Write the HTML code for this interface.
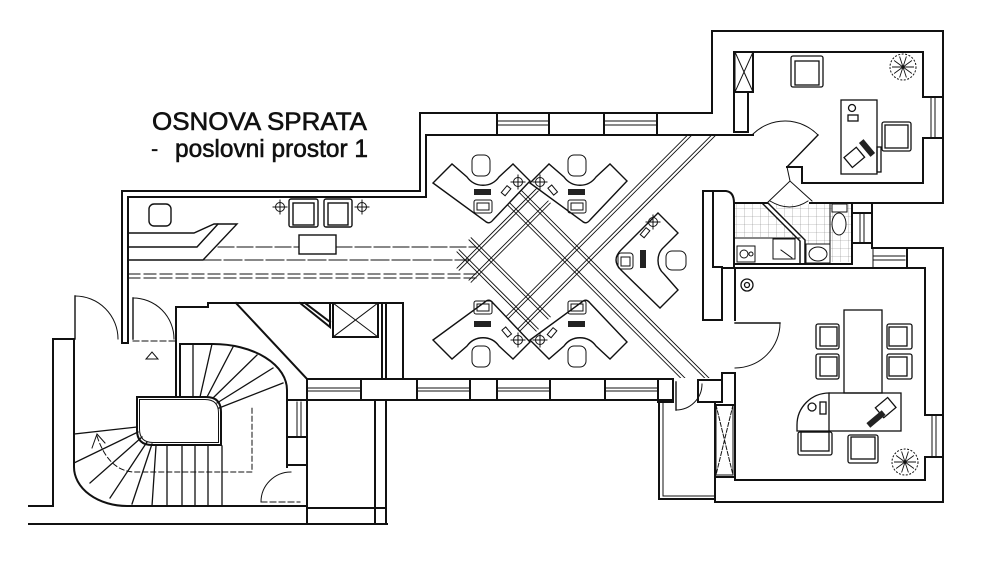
<!DOCTYPE html>
<html><head><meta charset="utf-8">
<style>
html,body{margin:0;padding:0;background:#fff;}
svg{display:block;}
text{font-family:"Liberation Sans",Arial,sans-serif;fill:#111;}
</style></head>
<body>
<svg width="1000" height="583" viewBox="0 0 1000 583" xmlns="http://www.w3.org/2000/svg">
<defs>
<pattern id="tile" width="8" height="8" patternUnits="userSpaceOnUse"><path d="M0,0 L8,0 M0,0 L0,8" stroke="#888" stroke-width="0.6" fill="none"/></pattern>
<g id="plant" fill="none" stroke="#111">
<circle r="13" stroke-width="1" stroke-dasharray="2 1.5"/>
<path stroke-width="0.9" d="M0,0 L11,0 M0,0 L8.9,6.5 M0,0 L3.4,10.5 M0,0 L-3.4,10.5 M0,0 L-8.9,6.5 M0,0 L-11,0 M0,0 L-8.9,-6.5 M0,0 L-3.4,-10.5 M0,0 L3.4,-10.5 M0,0 L8.9,-6.5"/>
</g>
<g id="lamp" fill="none" stroke="#111" stroke-width="1">
<circle r="4.5"/><path d="M-7,0 L7,0 M0,-7 L0,7"/>
</g>
<clipPath id="cc"><rect x="300" y="136" width="460" height="242"/></clipPath>
</defs>
<rect width="1000" height="583" fill="#fff"/>

<text x="152" y="130" font-size="25" textLength="215" lengthAdjust="spacingAndGlyphs" stroke="#111" stroke-width="0.6">OSNOVA SPRATA</text>
<text x="151" y="156" font-size="22" stroke="#111" stroke-width="0.3">-</text>
<text x="175" y="157" font-size="25" textLength="193" lengthAdjust="spacingAndGlyphs" stroke="#111" stroke-width="0.6">poslovni prostor 1</text>

<!-- tiles -->
<path d="M735,204 L762,204 L796,237 L735,237 Z" fill="url(#tile)"/>
<path d="M772,204 L851,204 L851,262 L831,262 L831,244 L806,244 L806,239 Z" fill="url(#tile)"/>

<g fill="none" stroke="#111" stroke-linejoin="miter" stroke-linecap="square">
<!-- main walls -->
<g stroke-width="2">
<path d="M122,343 L122,191 L420,191 L420,113 L712,113 L712,31 L943,31 L943,203 L872,203 L872,248 L943,248 L943,502 L715,502 L715,402"/>
<path d="M122,343 L128,343 L128,197 L426,197 L426,135 L753,135"/>
<path d="M748,132 L734,132 L734,52 L923,52 L923,97 M923,138 L923,183 L802,183 L802,167 L787,167"/>
<path d="M734,92 L753,92 L753,52 M748,132 L748,92"/>
<path d="M923,97 L943,97 M923,138 L943,138"/>
<path d="M735,320 L735,268 L907,268 L907,248 M907,268 L925,268 L925,415 M925,457 L925,480 L735,480 L735,373 L722,373 L722,402"/>
<path d="M925,415 L943,415 M925,457 L943,457"/>
<path d="M703,191 L703,320 L722,320 L722,268 L735,268"/>
<path d="M703,191 L726,191 Q734,192 734,203 L734,268"/>
<path d="M713,191 L713,267 L722,267"/>
<path d="M734,203 L767,203 M810,203 L872,203 M852,203 L852,264 M734,264 L852,264"/>
<path d="M852,213 L872,213 M852,243 L872,243"/>
<!-- center bottom wall -->
<path d="M307,379 L673,379 M288,400 L673,400"/>
<path d="M361,379 L361,400 M417,379 L417,400 M470,379 L470,400 M497,379 L497,400 M550,379 L550,400 M605,379 L605,400 M658,379 L658,400 M673,379 L673,402 L658,402"/>
<rect x="698" y="380" width="24" height="22"/>
<!-- center top wall jambs -->
<path d="M497,113 L497,135 M549,113 L549,135 M604,113 L604,135 M657,113 L657,135"/>
<!-- lower small rooms -->
<path d="M659,402 L659,499 L715,499 M715,405 L735,405"/>
<path d="M715,477 L735,477"/>
<!-- stair hall -->
<path d="M29,506 L53,506 L53,339 L74,339 L74,467 A53,39 0 0 0 127,506 L307,506"/>
<path d="M29,524 L387,524 M307,379 L307,524 M307,508 L386,508 M375,400 L375,524 M386,400 L386,524"/>
<path d="M176,397 L176,307 L208,307 L208,303 L403,303"/>
<path d="M180,397 L180,344 L213,344 A74,46 0 0 1 287,390 L287,467"/>
<path d="M287,400 L307,400 M288,465 L307,465 M288,437 L307,437"/>
<path d="M236,303 L307,379"/>
<path d="M137,397 L206,397 Q221,397 221,412 L221,445 L152,445 Q137,445 137,430 Z"/>
<path d="M300,303 L330,327 L330,303 M305,303 L330,322"/>
<rect x="333" y="303" width="45" height="34"/>
<path d="M382,303 L382,379 M386,303 L386,379 M403,303 L403,379"/>
</g>

<!-- thin details -->
<g stroke-width="1">
<path d="M931,97 L931,138 M935,97 L935,138 M932,415 L932,457 M936,415 L936,457"/>
<path d="M860,213 L860,243 M864,213 L864,243"/>
<path d="M873,256 L905,256 M873,260 L905,260 M873,249 L873,267"/>
<path d="M497,121 L549,121 M497,125 L549,125 M604,121 L657,121 M604,125 L657,125"/>
<path d="M307,388 L361,388 M307,391 L361,391 M417,388 L470,388 M417,391 L470,391 M497,388 L550,388 M497,391 L550,391 M605,388 L658,388 M605,391 L658,391"/>
<path d="M663,402 L663,496 L715,496"/>
<path d="M297,402 L297,436 M301,402 L301,436"/>
<path d="M139.5,399.5 L205,399.5 Q218.5,399.5 218.5,413 L218.5,442.5 L153,442.5 Q139.5,442.5 139.5,429 Z"/>
<path d="M333,303 L378,337 M378,303 L333,337"/>
<!-- stair treads -->
<path stroke-width="1.3" d="M193,344 L193,397 M212,344 L200,397 M233,347 L207,397 M257,355 L213,398 M273,368 L217,403 M283,383 L219,408"/>
<path stroke-width="1.3" d="M167,446 L167,506 M182,446 L182,506 M195,446 L195,506 M208,446 L208,506 M222,446 L222,506 M156,446 L152,506"/>
<path stroke-width="1.3" d="M74,434 L137,427 M74,463 L138,432 M90,483 L142,437 M110,498 L147,442 M132,504 L152,444"/>
<path d="M92,448 L97,434 L105,443"/>
<path stroke-dasharray="5 3" d="M97,436 Q108,470 133,472 L252,472 L252,407"/>
<!-- doors -->
<path stroke-width="1.4" d="M75,296 L75,339 M133,298 L133,339 M676,382 L676,410 M735,323 L780,323 M787,167 L818,135"/>
<path d="M75,296 A43,43 0 0 1 118,339"/>
<path d="M133,298 A41,41 0 0 1 174,339"/>
<path stroke-dasharray="6 3" d="M133,341 L176,341"/>
<path d="M261,502 A30,30 0 0 1 291,472"/>
<path stroke-dasharray="6 3" d="M261,502 L300,502"/>
<path d="M676,410 A26,26 0 0 0 702,384"/>
<path d="M780,323 A45,45 0 0 1 735,368"/>
<path d="M818,135 A46,46 0 0 0 753,134"/>
<path d="M146,359 L158,359 L152,352 Z"/>
<!-- bathroom -->
<path stroke-width="1.5" d="M762,203 L800,241 L800,263 M768,203 L805,240 L805,263"/>
<path d="M767,203 L790,181 L812,201 M787,167 L790,181 M770,201 Q790,213 808,201"/>
<path d="M734,238 L800,238 M830,204 L830,263"/>
<rect x="737" y="246" width="18" height="16" fill="#fff"/><circle cx="744" cy="254" r="4"/><circle cx="751" cy="254" r="2"/>
<rect x="773" y="239" width="22" height="20" fill="#fff"/><path d="M781,250 L792,258"/>
<rect x="806" y="244" width="24" height="19" fill="#fff"/><ellipse cx="818" cy="254" rx="9" ry="7"/>
<rect x="832" y="204" width="15" height="8" fill="#fff"/><ellipse cx="839" cy="224" rx="7" ry="11" fill="#fff"/>
<!-- wardrobe -->
<rect x="716" y="405" width="17" height="70"/>
<path stroke-dasharray="4 2" d="M716,405 L733,475 M733,405 L716,475"/>
<rect x="735" y="52" width="18" height="40"/>
<path d="M735,52 L753,92 M753,52 L735,92"/>
</g>

<!-- corridor dashed lines -->
<g stroke-width="1">
<path stroke-dasharray="16 3" d="M218,247 L299,247 M336,247 L476,247"/>
<path stroke-dasharray="18 3" d="M203,260 L470,260"/>
<path stroke-dasharray="12 4" d="M128,274 L476,274 M128,278 L476,278"/>
</g>

<!-- reception -->
<g stroke-width="1.4">
<path d="M128,233 L194,233 L214,224 L237,224 L203,260 L128,260"/>
<path d="M128,247 L197,247 L218,224"/>
<rect x="149" y="204" width="22" height="22" rx="5"/>
<rect x="289" y="199" width="29" height="28" rx="2"/><rect x="293" y="203" width="21" height="22"/>
<rect x="324" y="199" width="28" height="28" rx="2"/><rect x="328" y="203" width="20" height="22"/>
<rect x="299" y="235" width="37" height="19"/>
</g>
<use href="#lamp" x="280" y="207"/>
<use href="#lamp" x="362" y="207"/>

<!-- diamond ceiling grid -->
<g clip-path="url(#cc)" stroke-width="0.9">
<g transform="translate(528,260) rotate(45)">
<path d="M-56,-44.5 L260,-44.5 M-56,-41.5 L260,-41.5 M-56,-27.5 L260,-27.5 M-56,-24.5 L260,-24.5"/>
<path d="M44.5,56 L44.5,-300 M41.5,56 L41.5,-300 M27.5,56 L27.5,-300 M24.5,56 L24.5,-300"/>
<path d="M-56,44.5 L56,44.5 M-56,41.5 L56,41.5 M-56,27.5 L56,27.5 M-56,24.5 L56,24.5"/>
<path d="M-44.5,-56 L-44.5,56 M-41.5,-56 L-41.5,56 M-27.5,-56 L-27.5,56 M-24.5,-56 L-24.5,56"/>
</g>
</g>

<!-- workstations -->
<g stroke-width="1.4" fill="#fff">
<path id="dk" d="M433,183 L452,164 L467,177 C475,188 491,188 499,177 L513,164 L530,181 L493,220 Q489,225 485,221 Z"/>
<use href="#dk" transform="translate(97,0)"/>
<use href="#dk" transform="translate(0,523) scale(1,-1)"/>
<use href="#dk" transform="translate(97,523) scale(1,-1)"/>
<path d="M658,213 L678,233 L664,247 C656,254 656,267 664,274 L678,290 L660,308 L621,270 Q611,260 621,250 Z"/>
</g>
<g stroke-width="1">
<rect x="472" y="155" width="18" height="21" rx="6"/>
<rect x="568" y="155" width="18" height="21" rx="6"/>
<rect x="472" y="346" width="18" height="21" rx="6"/>
<rect x="568" y="346" width="18" height="21" rx="6"/>
<rect x="666" y="251" width="20" height="19" rx="6"/>
<rect x="474" y="200" width="18" height="13" rx="2"/><rect x="477" y="203" width="12" height="7"/>
<rect x="568" y="200" width="18" height="13" rx="2"/><rect x="571" y="203" width="12" height="7"/>
<rect x="474" y="301" width="18" height="13" rx="2"/><rect x="477" y="304" width="12" height="7"/>
<rect x="568" y="301" width="18" height="13" rx="2"/><rect x="571" y="304" width="12" height="7"/>
<rect x="618" y="253" width="15" height="16" rx="3"/><rect x="621" y="257" width="9" height="9"/>
<rect x="504" y="186" width="5" height="9" transform="rotate(40 506 190)"/>
<rect x="550" y="186" width="5" height="9" transform="rotate(-40 552 190)"/>
<rect x="504" y="328" width="5" height="9" transform="rotate(-40 506 332)"/>
<rect x="550" y="328" width="5" height="9" transform="rotate(40 552 332)"/>
<rect x="643" y="228" width="5" height="9" transform="rotate(40 645 232)"/>
</g>
<g fill="#222" stroke="none">
<rect x="474" y="189" width="17" height="6"/>
<rect x="568" y="189" width="17" height="6"/>
<rect x="474" y="321" width="17" height="6"/>
<rect x="568" y="321" width="17" height="6"/>
<rect x="640" y="250" width="6" height="18"/>
</g>
<use href="#lamp" x="518" y="182"/>
<use href="#lamp" x="540" y="182"/>
<use href="#lamp" x="518" y="340"/>
<use href="#lamp" x="540" y="340"/>
<use href="#lamp" x="653" y="222"/>

<!-- upper right office furniture -->
<g stroke-width="1.3">
<rect x="791" y="56" width="32" height="31" rx="2"/><rect x="795" y="61" width="24" height="24"/>
<rect x="841" y="100" width="36" height="74"/>
<rect x="877" y="147" width="4" height="25"/>
<rect x="882" y="122" width="29" height="29" rx="2"/><rect x="885" y="125" width="23" height="23"/>
<circle cx="852" cy="108" r="3.5"/>
<rect x="848" y="115" width="10" height="6"/>
<rect x="846" y="151" width="16" height="13" transform="rotate(-40 854 157)"/>
<!-- lower right office -->
<rect x="844" y="310" width="38" height="83"/>
<rect x="816" y="324" width="23" height="25" rx="2"/><rect x="820" y="327" width="17" height="19"/>
<rect x="816" y="354" width="23" height="25" rx="2"/><rect x="820" y="357" width="17" height="19"/>
<rect x="887" y="324" width="25" height="25" rx="2"/><rect x="889" y="327" width="18" height="19"/>
<rect x="887" y="354" width="25" height="25" rx="2"/><rect x="889" y="357" width="18" height="19"/>
<rect x="829" y="393" width="72" height="38"/>
<path d="M829,393 A32,32 0 0 0 797,425 L797,431 L829,431"/>
<rect x="798" y="432" width="34" height="23" rx="2"/><rect x="801" y="432" width="28" height="19"/>
<rect x="848" y="435" width="30" height="28" rx="2"/><rect x="851" y="437" width="24" height="22"/>
<circle cx="812" cy="407" r="4"/>
<rect x="820" y="402" width="6" height="12"/>
<rect x="878" y="401" width="16" height="13" transform="rotate(-40 886 408)"/>
<circle cx="747" cy="285" r="6"/><circle cx="747" cy="285" r="2.5"/>
</g>
<g fill="#222" stroke="none">
<rect x="858" y="145" width="18" height="6" transform="rotate(50 867 148)"/>
<rect x="866" y="416" width="20" height="6" transform="rotate(-40 876 419)"/>
</g>
</g>
<use href="#plant" x="903" y="67"/>
<use href="#plant" x="905" y="462"/>
</svg>
</body></html>
